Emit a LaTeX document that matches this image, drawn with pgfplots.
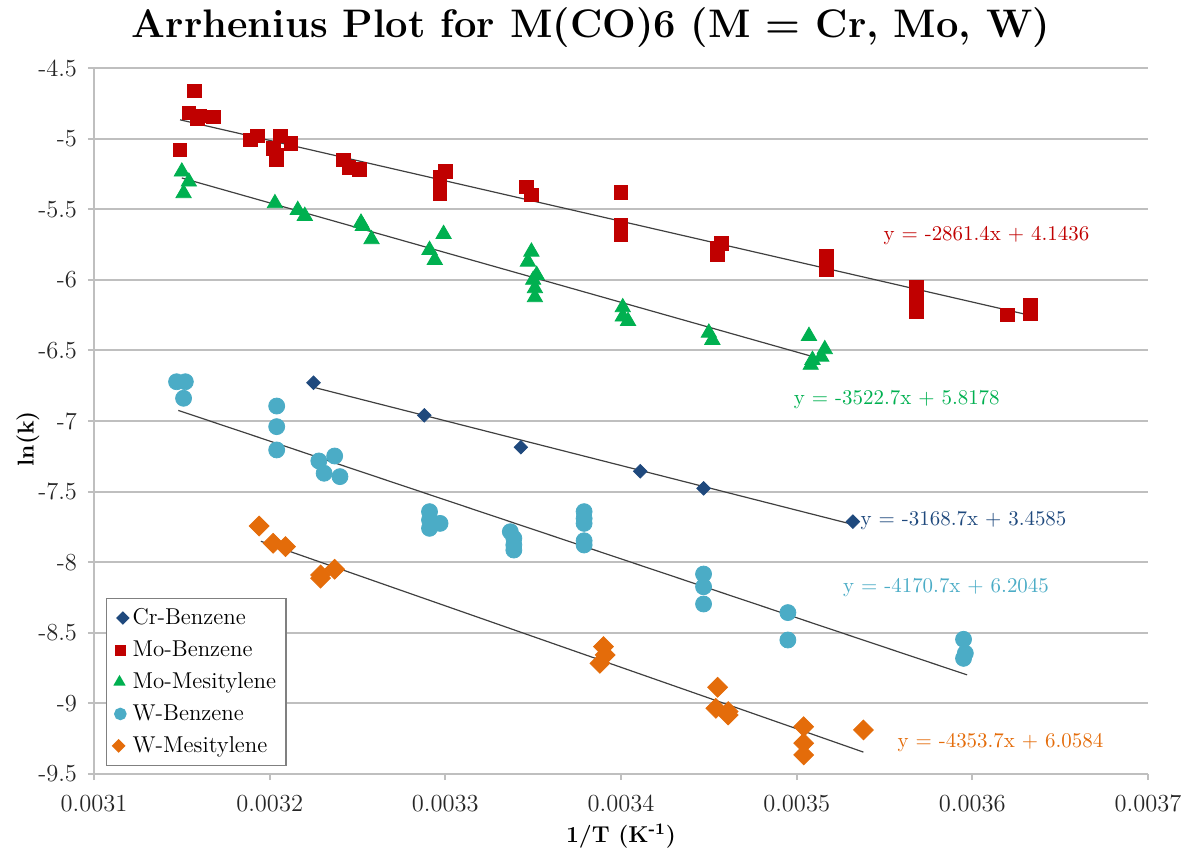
\documentclass[border=0pt]{standalone}
\usepackage{pgfplots}
\pgfplotsset{compat=1.18}
\definecolor{crblue}{HTML}{1F497D}
\definecolor{mored}{HTML}{C00000}
\definecolor{mogreen}{HTML}{00B050}
\definecolor{wblue}{HTML}{4BACC6}
\definecolor{worange}{HTML}{E46C0A}
\definecolor{gridgray}{HTML}{BFBFBF}
\definecolor{trend}{HTML}{404040}
\begin{document}
\begin{tikzpicture}
\begin{axis}[
  name=ax,
  scale only axis,
  width=527bp, height=353bp,
  xmin=0.0031, xmax=0.0037, ymin=-9.5, ymax=-4.5,
  scaled x ticks=false, scaled y ticks=false,
  xtick={0.0031,0.0032,0.0033,0.0034,0.0035,0.0036,0.0037},
  xticklabels={0.0031,0.0032,0.0033,0.0034,0.0035,0.0036,0.0037},
  ytick={-9.5,-9,-8.5,-8,-7.5,-7,-6.5,-6,-5.5,-5,-4.5},
  yticklabels={-9.5,-9,-8.5,-8,-7.5,-7,-6.5,-6,-5.5,-5,-4.5},
  axis x line*=bottom, axis y line*=left,
  axis line style={gridgray, line width=1bp},
  every tick/.style={gridgray, line width=1bp},
  tick align=outside, major tick length=3bp,
  ymajorgrids, major grid style={gridgray, line width=1bp},
  tick label style={font=\fontsize{12.3}{14}\selectfont, text=black!85},
  xticklabel style={yshift=-4bp},
  yticklabel style={xshift=-2bp},
  xlabel={\textbf{1/T (K\textsuperscript{-1})}},
  ylabel={\textbf{ln(k)}},
  label style={font=\fontsize{11.5}{13}\selectfont},
  xlabel style={at={(axis description cs:0.5,-0.0878)}, anchor=center},
  ylabel style={at={(axis description cs:-0.0626,0.475)}, anchor=center},
  title={\textbf{Arrhenius Plot for M(CO)6 (M = Cr, Mo, W)}},
  title style={font=\fontsize{20}{23}\selectfont, at={(axis description cs:0.4715,1)}, anchor=base, yshift=9.5bp},
  legend style={at={(rel axis cs:0.0114,0.0113)}, anchor=south west, draw=gray, line width=0.7bp,
    font=\fontsize{11.5}{13}\selectfont, row sep=2.6bp, inner sep=3bp},
  legend cell align=left,
  clip=false,
]
% Cr-Benzene
\addplot[only marks, mark=square*, mark size=2.4bp, mark options={rotate=45, draw=crblue, fill=crblue},
  legend image post style={scale=0.85}] coordinates {
(0.003225,-6.729) (0.003288,-6.960) (0.003343,-7.186) (0.003411,-7.356) (0.003447,-7.477) (0.003532,-7.713)
};
\addlegendentry{Cr-Benzene}
% Mo-Benzene
\addplot[only marks, mark=square*, mark size=3.4bp, mark options={draw=mored, fill=mored},
  legend image post style={scale=0.7}] coordinates {
(0.003149,-5.081) (0.003157,-4.661) (0.003154,-4.817) (0.003159,-4.856) (0.003160,-4.840) (0.003168,-4.845)
(0.003189,-5.010) (0.003193,-4.982) (0.003202,-5.069) (0.003204,-5.116) (0.003204,-5.147) (0.003206,-4.982)
(0.003212,-5.033) (0.003242,-5.152) (0.003245,-5.203) (0.003251,-5.217) (0.003297,-5.270) (0.003300,-5.234)
(0.003297,-5.317) (0.003297,-5.387) (0.003346,-5.341) (0.003349,-5.399) (0.003400,-5.383) (0.003400,-5.612)
(0.003400,-5.683) (0.003457,-5.742) (0.003455,-5.777) (0.003455,-5.824) (0.003517,-5.836) (0.003517,-5.883)
(0.003517,-5.931) (0.003568,-6.049) (0.003568,-6.143) (0.003568,-6.226) (0.003620,-6.249) (0.003633,-6.178)
(0.003633,-6.237)
};
\addlegendentry{Mo-Benzene}
% Mo-Mesitylene
\addplot[only marks, mark=triangle*, mark size=4.4bp, mark options={draw=mogreen, fill=mogreen},
  legend image post style={scale=0.65}] coordinates {
(0.003150,-5.234) (0.003154,-5.305) (0.003151,-5.387) (0.003203,-5.458) (0.003216,-5.506) (0.003220,-5.548)
(0.003252,-5.596) (0.003253,-5.620) (0.003258,-5.713) (0.003299,-5.676) (0.003291,-5.789) (0.003294,-5.860)
(0.003349,-5.801) (0.003347,-5.872) (0.003352,-5.966) (0.003350,-6.001) (0.003351,-6.060) (0.003351,-6.124)
(0.003401,-6.195) (0.003401,-6.261) (0.003404,-6.292) (0.003450,-6.375) (0.003452,-6.426) (0.003507,-6.398)
(0.003516,-6.492) (0.003514,-6.545) (0.003509,-6.568) (0.003508,-6.603)
};
\addlegendentry{Mo-Mesitylene}
% W-Benzene
\addplot[only marks, mark=*, mark size=4bp, mark options={draw=wblue, fill=wblue},
  legend image post style={scale=0.7}] coordinates {
(0.003147,-6.722) (0.003152,-6.722) (0.003151,-6.839) (0.003204,-6.894) (0.003204,-7.040) (0.003204,-7.205)
(0.003228,-7.283) (0.003237,-7.248) (0.003231,-7.370) (0.003240,-7.394) (0.003291,-7.642) (0.003291,-7.701)
(0.003297,-7.725) (0.003291,-7.760) (0.003337,-7.784) (0.003339,-7.831) (0.003339,-7.878) (0.003339,-7.914)
(0.003379,-7.642) (0.003379,-7.690) (0.003379,-7.725) (0.003379,-7.848) (0.003379,-7.878) (0.003447,-8.084)
(0.003447,-8.174) (0.003447,-8.296) (0.003495,-8.357) (0.003495,-8.551) (0.003595,-8.546) (0.003596,-8.645)
(0.003595,-8.681)
};
\addlegendentry{W-Benzene}
% W-Mesitylene
\addplot[only marks, mark=square*, mark size=3.5bp, mark options={rotate=45, draw=worange, fill=worange},
  legend image post style={scale=0.6}] coordinates {
(0.003194,-7.744) (0.003202,-7.866) (0.003209,-7.890) (0.003229,-8.090) (0.003229,-8.113) (0.003237,-8.050)
(0.003390,-8.598) (0.003391,-8.657) (0.003388,-8.716) (0.003455,-8.886) (0.003454,-9.035) (0.003461,-9.058)
(0.003461,-9.082) (0.003504,-9.165) (0.003504,-9.282) (0.003504,-9.365) (0.003538,-9.188)
};
\addlegendentry{W-Mesitylene}
% trend lines
\addplot[forget plot, trend, line width=0.6bp] coordinates {(0.003149,-4.867) (0.003633,-6.252)};
\addplot[forget plot, trend, line width=0.6bp] coordinates {(0.003150,-5.279) (0.003516,-6.568)};
\addplot[forget plot, trend, line width=0.6bp] coordinates {(0.003225,-6.761) (0.003532,-7.733)};
\addplot[forget plot, trend, line width=0.6bp] coordinates {(0.003148,-6.925) (0.003597,-8.798)};
\addplot[forget plot, trend, line width=0.6bp] coordinates {(0.003195,-7.852) (0.003538,-9.345)};
% equations
\node[font=\fontsize{10.5}{12}\selectfont, text=mored] at (axis cs:0.003608,-5.690) {y = -2861.4x + 4.1436};
\node[font=\fontsize{10.5}{12}\selectfont, text=mogreen] at (axis cs:0.003557,-6.851) {y = -3522.7x + 5.8178};
\node[font=\fontsize{10.5}{12}\selectfont, text=crblue] at (axis cs:0.003595,-7.706) {y = -3168.7x + 3.4585};
\node[font=\fontsize{10.5}{12}\selectfont, text=wblue] at (axis cs:0.003585,-8.178) {y = -4170.7x + 6.2045};
\node[font=\fontsize{10.5}{12}\selectfont, text=worange] at (axis cs:0.003616,-9.275) {y = -4353.7x + 6.0584};
\end{axis}
\pgfresetboundingbox
\path (ax.south west) ++(-47bp,-37bp) rectangle ++(591bp,424bp);
\end{tikzpicture}
\end{document}
